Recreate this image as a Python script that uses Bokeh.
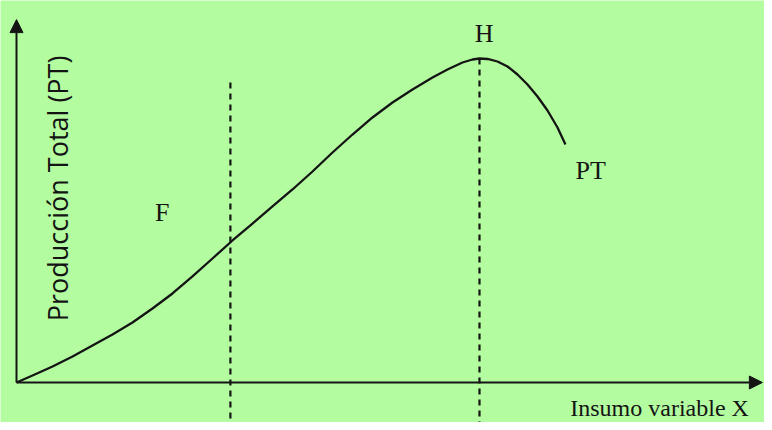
import math
from bokeh.plotting import figure
from bokeh.models import Range1d, Arrow, NormalHead, ColumnDataSource
from bokeh.core.properties import value
from bokeh.embed import file_html
from bokeh.resources import INLINE

# Total production curve (input X, total product PT)
insumo_x = [0.0, 0.346, 0.778, 1.210, 1.641, 2.073, 2.505, 2.937, 3.369, 3.801, 4.233,
            4.665, 5.097, 5.529, 5.961, 6.393, 6.825, 7.257, 7.689, 8.121, 8.553,
            8.985, 9.309, 9.633, 9.849, 10.0, 10.173, 10.389, 10.605, 10.821, 11.037,
            11.253, 11.469, 11.685, 11.857]
produccion = [0.0, 2.16, 4.94, 8.02, 11.42, 14.81, 18.52, 22.84, 27.47, 32.72, 38.27,
              43.83, 49.07, 54.32, 59.57, 65.12, 70.99, 76.54, 81.79, 86.42, 90.43,
              94.14, 96.60, 98.77, 99.69, 100.0, 99.85, 99.07, 97.53, 95.06, 91.98,
              88.27, 83.95, 78.70, 73.46]

# Dashed reference lines (at F region boundary and at H, the maximum)
ref_x = [4.62, 10.0]
ref_top = [92.6, 100.0]

# Labels
label_text = ["H", "F", "PT"]
label_x = [10.1, 3.15, 12.40]
label_y = [107.6, 52.5, 65.4]

x_title = "Insumo variable X"
y_title = "Producción Total (PT)"

X_START, X_END = -0.3456, 16.156
Y_START, Y_END = -12.35, 117.9

BG = "#b3fc9f"
INK = "#141414"

p = figure(width=764, height=422, output_backend="svg", toolbar_location=None,
           x_range=Range1d(X_START, X_END), y_range=Range1d(Y_START, Y_END),
           x_axis_location=None, y_axis_location=None,
           min_border=0, min_border_left=0, min_border_right=0,
           min_border_top=0, min_border_bottom=0)
p.background_fill_color = BG
p.border_fill_color = BG
p.outline_line_color = None
p.xgrid.visible = False
p.ygrid.visible = False

# axes with arrowheads
p.add_layout(Arrow(end=NormalHead(size=13, fill_color=INK, line_color=INK),
                   x_start=0, y_start=0, x_end=0, y_end=112.0,
                   line_color=INK, line_width=2))
p.add_layout(Arrow(end=NormalHead(size=13, fill_color=INK, line_color=INK),
                   x_start=0, y_start=0, x_end=16.11, y_end=0,
                   line_color=INK, line_width=2))

# dashed verticals
p.segment(x0=ref_x, y0=ref_top, x1=ref_x, y1=[Y_START] * len(ref_x),
          line_color=INK, line_width=2.2, line_dash="6 5")

# curve
p.line(insumo_x, produccion, line_color=INK, line_width=2.3, line_join="round")

src = ColumnDataSource(dict(x=label_x, y=label_y, t=label_text))
p.text(x="x", y="y", text="t", source=src, text_font=value("Liberation Serif"),
       text_font_size="26px", text_align="center", text_baseline="middle",
       text_color=INK)

p.text(x=[13.89], y=[-8.0], text=[x_title], text_font=value("Liberation Serif"),
       text_font_size="24px", text_align="center", text_baseline="middle",
       text_color=INK)

p.text(x=[0.886], y=[59.9], text=[y_title], angle=math.pi / 2,
       text_font=value("Open Sans"), text_font_size="27px",
       text_align="center", text_baseline="middle", text_color=INK)

open("out.html", "w").write(file_html(p, INLINE))
